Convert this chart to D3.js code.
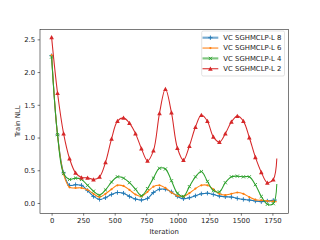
<!DOCTYPE html>
<html><head><meta charset="utf-8">
<script src="https://cdn.jsdelivr.net/npm/d3@7"></script>
<style>html,body{margin:0;padding:0;background:#fff;}svg{display:block;font-family:"DejaVu Sans",sans-serif;}</style>
</head><body>
<svg id="c" width="320" height="240"></svg>
<script>
const iterations = [0,47,95,142,190,237,285,332,380,427,475,522,570,617,665,712,760,807,855,902,950,997,1045,1092,1140,1187,1235,1282,1330,1377,1425,1472,1520,1567,1615,1662,1710,1757,1785];
const seriesNames = ["VC SGHMCLP-L 8","VC SGHMCLP-L 6","VC SGHMCLP-L 4","VC SGHMCLP-L 2"];
const valuesL8 = [2.25,1.04,0.46,0.27,0.28,0.27,0.19,0.10,0.055,0.08,0.13,0.16,0.15,0.10,0.06,0.045,0.07,0.16,0.21,0.21,0.17,0.10,0.065,0.08,0.11,0.14,0.15,0.13,0.105,0.095,0.09,0.07,0.055,0.045,0.03,0.02,0.03,0.04,0.045];
const valuesL6 = [2.26,1.04,0.44,0.24,0.23,0.23,0.20,0.14,0.09,0.14,0.21,0.27,0.26,0.20,0.13,0.10,0.17,0.25,0.27,0.23,0.16,0.11,0.10,0.15,0.22,0.27,0.27,0.21,0.14,0.12,0.14,0.16,0.14,0.09,0.05,0.04,0.03,0.025,0.02];
const valuesL4 = [2.23,1.045,0.45,0.36,0.38,0.36,0.27,0.18,0.12,0.20,0.32,0.40,0.38,0.31,0.21,0.11,0.22,0.38,0.53,0.52,0.34,0.15,0.10,0.25,0.40,0.48,0.33,0.19,0.17,0.31,0.40,0.41,0.40,0.40,0.28,0.10,-0.02,-0.01,0.29];
const valuesL2 = [2.53,1.68,1.06,0.68,0.46,0.39,0.385,0.36,0.40,0.62,0.98,1.25,1.30,1.22,1.06,0.83,0.645,0.80,1.37,1.74,1.38,0.84,0.655,0.87,1.16,1.345,1.25,1.01,0.93,1.06,1.24,1.33,1.25,1.00,0.70,0.47,0.31,0.36,0.68];
const xTicks = [0,250,500,750,1000,1250,1500,1750];
const yTicks = [0.0,0.5,1.0,1.5,2.0,2.5];
const colors = ["#1f77b4","#ff7f0e","#2ca02c","#d62728"];
const markers = ["plus","point","cross","triangle"];

const svg = d3.select("#c");
const L=40, R=288.3, T=29.3, B=213.3;
const x = d3.scaleLinear().domain([-92,1876]).range([L,R]);
const y = d3.scaleLinear().domain([-0.1575,2.6535]).range([B,T]);

const all = [valuesL8,valuesL6,valuesL4,valuesL2];
const line = d3.line().x(d=>x(d[0])).y(d=>y(d[1])).curve(d3.curveCatmullRom.alpha(0.5));

const plot = svg.append("g");
function drawMarker(g, type, cx, cy, color){
  if(type==="plus"){
    g.append("path").attr("d",`M${cx-2.2},${cy}H${cx+2.2}M${cx},${cy-2.2}V${cy+2.2}`).attr("stroke",color).attr("stroke-width",0.9).attr("fill","none");
  } else if(type==="point"){
    g.append("circle").attr("cx",cx).attr("cy",cy).attr("r",1.1).attr("fill",color);
  } else if(type==="cross"){
    g.append("path").attr("d",`M${cx-1.6},${cy-1.6}L${cx+1.6},${cy+1.6}M${cx-1.6},${cy+1.6}L${cx+1.6},${cy-1.6}`).attr("stroke",color).attr("stroke-width",0.9).attr("fill","none");
  } else {
    const s=2.3;
    g.append("path").attr("d",`M${cx},${cy-s}L${cx+s},${cy+s*0.85}L${cx-s},${cy+s*0.85}Z`).attr("fill",color);
  }
}
all.forEach((vals,i)=>{
  const pts = iterations.map((it,k)=>[it,vals[k]]);
  plot.append("path").attr("d",line(pts)).attr("fill","none").attr("stroke",colors[i]).attr("stroke-width",1.05);
  const mg = plot.append("g");
  pts.slice(0,pts.length-1).forEach(p=>drawMarker(mg,markers[i],x(p[0]),y(p[1]),colors[i]));
});

// axes
const xa = svg.append("g").attr("transform",`translate(0,${B})`).call(d3.axisBottom(x).tickValues(xTicks).tickSize(2.4).tickPadding(2.4).tickFormat(d3.format("d")));
const ya = svg.append("g").attr("transform",`translate(${L},0)`).call(d3.axisLeft(y).tickValues(yTicks).tickSize(2.4).tickPadding(2.4).tickFormat(d3.format(".1f")));
[xa,ya].forEach(a=>{a.select(".domain").remove();a.selectAll("text").attr("font-size","6.9px").attr("font-family","DejaVu Sans").attr("fill","#222");a.selectAll("line").attr("stroke","#222").attr("stroke-width",0.6);});
svg.append("rect").attr("x",L).attr("y",T).attr("width",R-L).attr("height",B-T).attr("fill","none").attr("stroke","#222").attr("stroke-width",0.6);

svg.append("text").attr("x",(L+R)/2).attr("y",233.5).attr("text-anchor","middle").attr("font-size","6.9px").attr("fill","#222").text("Iteration");
svg.append("text").attr("transform",`translate(19.5,${(T+B)/2}) rotate(-90)`).attr("text-anchor","middle").attr("font-size","6.9px").attr("fill","#222").text("Train NLL");

// legend
const lg = svg.append("g");
lg.append("rect").attr("x",201.7).attr("y",31).attr("width",82.8).attr("height",45).attr("rx",1.5).attr("fill","#fff").attr("fill-opacity",0.8).attr("stroke","#d0d0d0").attr("stroke-width",0.6);
seriesNames.forEach((n,i)=>{
  const cy = 37.7 + i*10.35;
  const faded = (i===0||i===2);
  lg.append("line").attr("x1",202.5).attr("x2",218.3).attr("y1",cy).attr("y2",cy).attr("stroke",colors[i]).attr("stroke-width",faded?2.2:1.05).attr("stroke-opacity",faded?0.6:1);
  drawMarker(lg,markers[i],210.4,cy,colors[i]);
  lg.append("text").attr("x",223.3).attr("y",cy).attr("dy","0.35em").attr("font-size","6.9px").attr("fill","#222").text(n);
});
</script>
</body></html>
